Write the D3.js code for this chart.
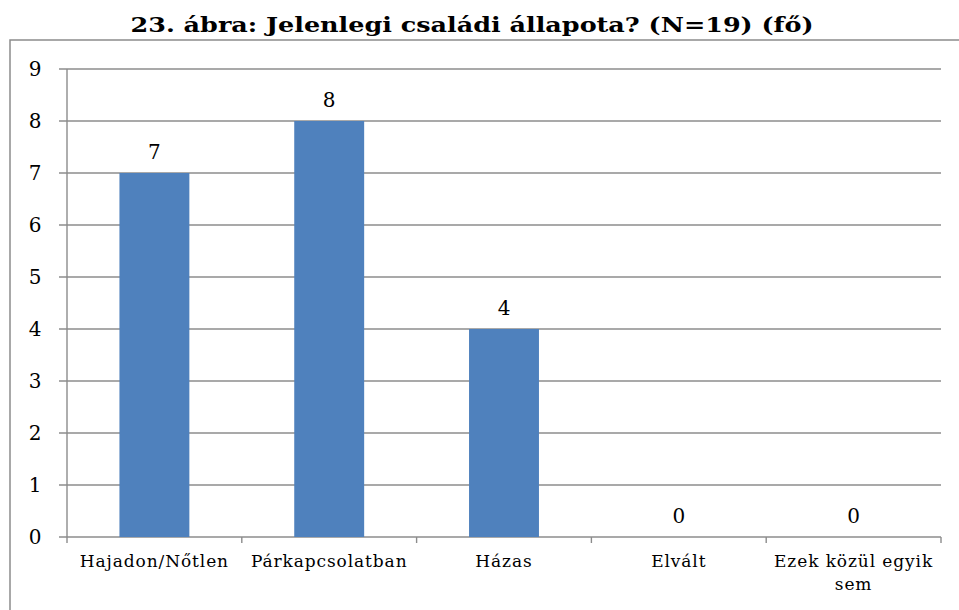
<!DOCTYPE html>
<html>
<head>
<meta charset="utf-8">
<script src="https://cdn.jsdelivr.net/npm/d3@7"></script>
<style>
  body { margin: 0; background: #fff; }
  text { font-family: "DejaVu Serif", "Liberation Serif", serif; fill: #000; }
</style>
</head>
<body>
<svg id="chart" width="959" height="610"></svg>
<script>
// chart data
const categories = ['Hajadon/Nőtlen', 'Párkapcsolatban', 'Házas', 'Elvált', 'Ezek közül egyik sem'];
const values = [7, 8, 4, 0, 0];
const yTicks = [0, 1, 2, 3, 4, 5, 6, 7, 8, 9];
const title = '23. ábra: Jelenlegi családi állapota? (N=19) (fő)';

const width = 959;
const height = 610;
const margin = { top: 69, right: 18, bottom: 73, left: 67 };

const svg = d3.select('#chart');

// outer frame (right and bottom run off the picture)
svg.append('path')
  .attr('d', `M10,${height + 5} L10,40 L${width + 5},40`)
  .attr('fill', 'none')
  .attr('stroke', '#8c8c8c')
  .attr('stroke-width', 1.5);

svg.append('text')
  .attr('x', 472)
  .attr('y', 32)
  .attr('text-anchor', 'middle')
  .attr('textLength', 683)
  .attr('lengthAdjust', 'spacingAndGlyphs')
  .style('font-size', '21px')
  .style('font-weight', 'bold')
  .text(title);

const x = d3.scaleBand()
  .domain(categories)
  .range([margin.left, width - margin.right])
  .paddingInner(0.6)
  .paddingOuter(0.3);

const xOuter = d3.scaleBand()
  .domain(categories)
  .range([margin.left, width - margin.right]);

const y = d3.scaleLinear()
  .domain([0, 9])
  .range([height - margin.bottom, margin.top]);

// gridlines
svg.append('g')
  .selectAll('line')
  .data(yTicks)
  .join('line')
  .attr('x1', margin.left - 8)
  .attr('x2', width - margin.right)
  .attr('y1', d => y(d))
  .attr('y2', d => y(d))
  .attr('stroke', '#8c8c8c')
  .attr('stroke-width', 1.4);

// y axis line
svg.append('line')
  .attr('x1', margin.left).attr('x2', margin.left)
  .attr('y1', y(9)).attr('y2', y(0) + 6)
  .attr('stroke', '#8c8c8c')
  .attr('stroke-width', 1.4);

// x category tick marks
svg.append('g')
  .selectAll('line')
  .data(categories)
  .join('line')
  .attr('x1', d => xOuter(d) + xOuter.bandwidth())
  .attr('x2', d => xOuter(d) + xOuter.bandwidth())
  .attr('y1', y(0))
  .attr('y2', y(0) + 6)
  .attr('stroke', '#8c8c8c')
  .attr('stroke-width', 1.4);

// y labels
svg.append('g')
  .selectAll('text')
  .data(yTicks)
  .join('text')
  .attr('x', 35)
  .attr('y', d => y(d) + 7)
  .attr('text-anchor', 'middle')
  .style('font-size', '20px')
  .text(d => d);

// bars
svg.append('g')
  .selectAll('rect')
  .data(values)
  .join('rect')
  .attr('x', (d, i) => x(categories[i]))
  .attr('width', x.bandwidth())
  .attr('y', d => y(d))
  .attr('height', d => y(0) - y(d))
  .attr('fill', '#4f81bd');

// value labels
svg.append('g')
  .selectAll('text')
  .data(values)
  .join('text')
  .attr('x', (d, i) => x(categories[i]) + x.bandwidth() / 2)
  .attr('y', d => y(d) - 14)
  .attr('text-anchor', 'middle')
  .style('font-size', '20px')
  .text(d => d);

// category labels (wrap long ones)
const catLabels = svg.append('g')
  .selectAll('text')
  .data(categories)
  .join('text')
  .attr('text-anchor', 'middle')
  .style('font-size', '17px')
  .style('letter-spacing', '0.9px')
  .attr('x', d => xOuter(d) + xOuter.bandwidth() / 2)
  .attr('y', 567);

catLabels.each(function (d) {
  const t = d3.select(this);
  const lines = d === 'Ezek közül egyik sem' ? ['Ezek közül egyik', 'sem'] : [d];
  lines.forEach((ln, i) => {
    t.append('tspan')
      .attr('x', xOuter(d) + xOuter.bandwidth() / 2)
      .attr('dy', i === 0 ? 0 : 23)
      .text(ln);
  });
});
</script>
</body>
</html>
